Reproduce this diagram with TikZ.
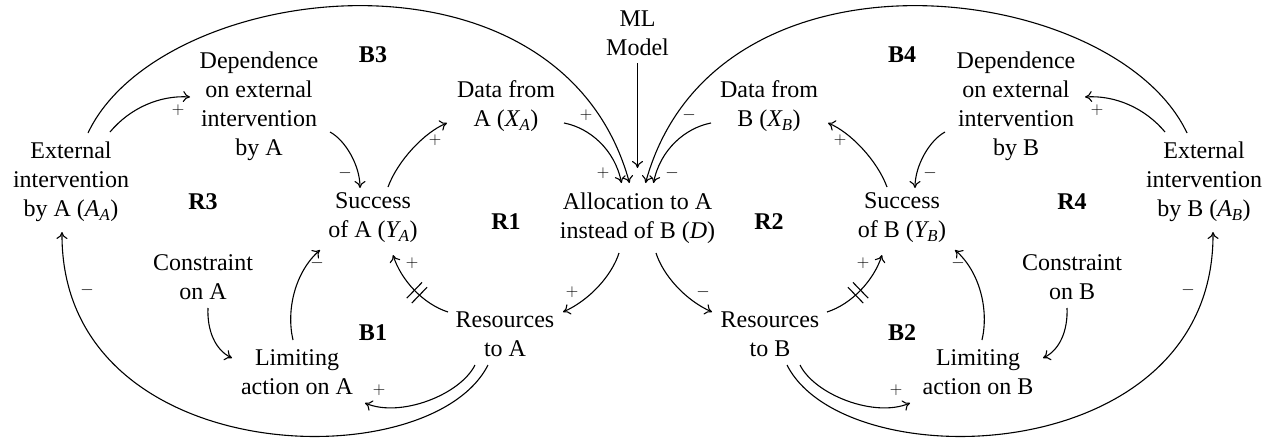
\documentclass[tikz,border=0pt]{standalone}
\usepackage{fontspec}
\setmainfont{Liberation Serif}
\usetikzlibrary{arrows.meta,decorations.markings}
\begin{document}
\begin{tikzpicture}[x=1pt,y=-1pt,
  every node/.style={inner sep=0pt, align=center, font=\fontsize{24}{29}\selectfont},
  loopname/.style={font=\fontsize{24}{29}\selectfont\bfseries},
  sign/.style={font=\fontsize{18}{18}\selectfont},
  link/.style={line width=1.1pt, -{To[length=7pt,width=11pt]}},
  delaymark/.style={postaction={decorate,decoration={markings,
      mark=at position 0.45 with {\draw[arrows=-,line width=1.1pt] (-3.5,-11) -- (-3.5,11) (3.5,-11) -- (3.5,11);}}}}
]
\useasboundingbox (0,0) rectangle (1275,439);

% variables
\node (ml)    at (637.5,33)  {ML\\Model};
\node (dataA) at (506,106)   {Data from\\A ($\mathit{X}_{\mathit{A}}$)};
\node (dataB) at (769,106)   {Data from\\B ($\mathit{X}_{\mathit{B}}$)};
\node (alloc) at (637.5,218) {Allocation to A\\instead of B ($\mathit{D}$)};
\node (extA)  at (71,182)    {External\\intervention\\by A ($\mathit{A}_{\mathit{A}}$)};
\node (extB)  at (1204,182)  {External\\intervention\\by B ($\mathit{A}_{\mathit{B}}$)};
\node (depA)  at (259,106)   {Dependence\\on external\\intervention\\by A};
\node (depB)  at (1016,106)  {Dependence\\on external\\intervention\\by B};
\node (succA) at (373,218)   {Success\\of A ($\mathit{Y}_{\mathit{A}}$)};
\node (succB) at (902,218)   {Success\\of B ($\mathit{Y}_{\mathit{B}}$)};
\node (conA)  at (203,277)   {Constraint\\on A};
\node (conB)  at (1072,277)  {Constraint\\on B};
\node (limA)  at (297,372)   {Limiting\\action on A};
\node (limB)  at (978,372)   {Limiting\\action on B};
\node (resA)  at (505,334)   {Resources\\to A};
\node (resB)  at (770,334)   {Resources\\to B};

% loop names
\node[loopname] (lB3) at (373,55)  {B3};
\node[loopname] (lB4) at (902,55)  {B4};
\node[loopname] (lR3) at (203,202) {R3};
\node[loopname] (lR4) at (1072,202) {R4};
\node[loopname] (lR1) at (506,222) {R1};
\node[loopname] (lR2) at (769,222) {R2};
\node[loopname] (lB1) at (373,333) {B1};
\node[loopname] (lB2) at (902,333) {B2};

% left side links
\draw[link] ([shift={(39,-50)}]extA.center) .. controls (130,108) and (160,95) .. ([shift={(-69,-9)}]depA.center);
\draw[link] ([shift={(17,-49)}]extA.center) .. controls (160,-20) and (560,-70) .. ([shift={(-8,-35)}]alloc.center);
\draw[link] ([shift={(71,26)}]depA.center) .. controls (345,140) and (360,165) .. ([shift={(-13,-30)}]succA.center);
\draw[link] ([shift={(15,-31)}]succA.center) .. controls (398,160) and (425,132) .. ([shift={(-59,17)}]dataA.center);
\draw[link] ([shift={(58,17)}]dataA.center) .. controls (590,128) and (615,150) .. ([shift={(-16,-35)}]alloc.center);
\draw[link] ([shift={(0,30)}]ml.center) -- ([shift={(0,-50)}]alloc.center);
\draw[link] ([shift={(-18.5,35)}]alloc.center) .. controls (612,275) and (590,300) .. ([shift={(58,-22)}]resA.center);
\draw[link,delaymark] ([shift={(-57,-22)}]resA.center) .. controls (423,304) and (401,280) .. ([shift={(20,37)}]succA.center);
\draw[link] ([shift={(-30,31)}]resA.center) .. controls (460,395) and (400,418) .. ([shift={(68,31)}]limA.center);
\draw[link] ([shift={(-17,31)}]resA.center) .. controls (430,480) and (60,470) .. ([shift={(-9,50)}]extA.center);
\draw[link] ([shift={(-4,-32)}]limA.center) .. controls (286,310) and (295,272) .. ([shift={(-53,32)}]succA.center);
\draw[link] ([shift={(5,31)}]conA.center) .. controls (207,330) and (215,350) .. ([shift={(-65,-14)}]limA.center);

% right side links
\draw[link] ([shift={(-39,-50)}]extB.center) .. controls (1145,108) and (1115,95) .. ([shift={(69,-9)}]depB.center);
\draw[link] ([shift={(-17,-49)}]extB.center) .. controls (1115,-20) and (715,-70) .. ([shift={(8,-35)}]alloc.center);
\draw[link] ([shift={(-71,26)}]depB.center) .. controls (930,140) and (915,165) .. ([shift={(13,-30)}]succB.center);
\draw[link] ([shift={(-15,-31)}]succB.center) .. controls (877,160) and (850,132) .. ([shift={(59,17)}]dataB.center);
\draw[link] ([shift={(-58,17)}]dataB.center) .. controls (685,128) and (660,150) .. ([shift={(16,-35)}]alloc.center);
\draw[link] ([shift={(18.5,35)}]alloc.center) .. controls (663,275) and (685,300) .. ([shift={(-58,-22)}]resB.center);
\draw[link,delaymark] ([shift={(57,-22)}]resB.center) .. controls (852,304) and (874,280) .. ([shift={(-20,37)}]succB.center);
\draw[link] ([shift={(30,31)}]resB.center) .. controls (815,395) and (875,418) .. ([shift={(-68,31)}]limB.center);
\draw[link] ([shift={(17,31)}]resB.center) .. controls (845,480) and (1215,470) .. ([shift={(9,50)}]extB.center);
\draw[link] ([shift={(4,-32)}]limB.center) .. controls (989,310) and (980,272) .. ([shift={(53,32)}]succB.center);
\draw[link] ([shift={(-5,31)}]conB.center) .. controls (1068,330) and (1060,350) .. ([shift={(65,-14)}]limB.center);

% polarity signs
\node[sign] (s1)  at (178,110) {$+$};
\node[sign] (s2)  at (586,115) {$+$};
\node[sign] (s3)  at (603,173) {$+$};
\node[sign] (s4)  at (345,173) {$-$};
\node[sign] (s5)  at (435,140) {$+$};
\node[sign] (s6)  at (572,292) {$+$};
\node[sign] (s7)  at (412,263) {$+$};
\node[sign] (s8)  at (379,390) {$+$};
\node[sign] (s9)  at (87,290)  {$-$};
\node[sign] (s10) at (317,263) {$-$};
\node[sign] (t1)  at (1097,110) {$+$};
\node[sign] (t2)  at (689,115) {$-$};
\node[sign] (t3)  at (672,173) {$-$};
\node[sign] (t4)  at (930,173) {$-$};
\node[sign] (t5)  at (840,140) {$+$};
\node[sign] (t6)  at (703,292) {$-$};
\node[sign] (t7)  at (863,263) {$+$};
\node[sign] (t8)  at (896,390) {$+$};
\node[sign] (t9)  at (1188,290) {$-$};
\node[sign] (t10) at (958,263) {$-$};
\end{tikzpicture}
\end{document}
